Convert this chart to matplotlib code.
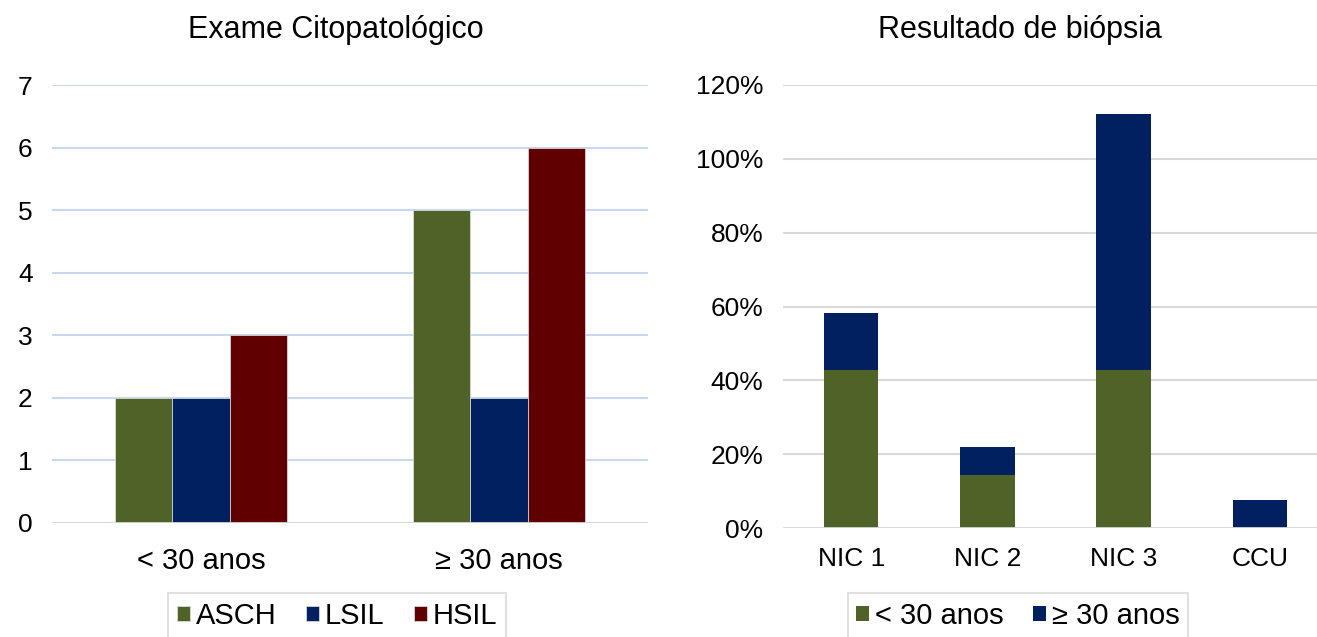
import matplotlib
matplotlib.use("Agg")
import matplotlib.pyplot as plt
import numpy as np
from matplotlib.ticker import PercentFormatter

plt.rcParams["font.family"] = ["Liberation Sans", "DejaVu Sans"]

# left chart: exame citopatologico (counts)
age_groups = ["< 30 anos", "≥ 30 anos"]
cito_series = ["ASCH", "LSIL", "HSIL"]
asch = [2, 5]
lsil = [2, 2]
hsil = [3, 6]

# right chart: resultado de biopsia (share, stacked)
biopsy_cats = ["NIC 1", "NIC 2", "NIC 3", "CCU"]
under_30 = [0.4286, 0.1429, 0.4286, 0.0]
over_30 = [0.1538, 0.0769, 0.6923, 0.0769]
biopsy_series = ["< 30 anos", "≥ 30 anos"]

GREEN = "#4F6228"
NAVY = "#002060"
RED = "#600000"

W, H = 1317, 637
fig = plt.figure(figsize=(W / 100, H / 100), dpi=100)


def px_axes(x0, x1, y_top, y_bot):
    return fig.add_axes([x0 / W, 1 - y_bot / H, (x1 - x0) / W, (y_bot - y_top) / H])


def style(ax, grid_color, xpad):
    for s in ax.spines.values():
        s.set_visible(False)
    ax.grid(axis="y", color=grid_color, linewidth=1.5)
    ax.set_axisbelow(True)
    ax.tick_params(axis="both", length=0, labelsize=19)
    ax.tick_params(axis="y", pad=14)
    ax.tick_params(axis="x", pad=xpad)


# ---- left
ax1 = px_axes(52, 648, 85, 523)
x = np.arange(len(age_groups))
bw = 0.192
for off, vals, col, name in zip([-1, 0, 1], [asch, lsil, hsil], [GREEN, NAVY, RED], cito_series):
    ax1.bar(x + off * bw, vals, bw, color=col, label=name, edgecolor="#E6E6E6", linewidth=0.5)
ax1.set_xlim(-0.5, 1.5)
ax1.set_ylim(0, 7)
ax1.set_yticks(range(0, 8))
ax1.set_xticks(x)
ax1.set_xticklabels(age_groups)
style(ax1, "#C9D8EE", 17)
ax1.tick_params(axis="x", labelsize=21)
ax1.axhline(0, color="#D9D9D9", linewidth=2)
fig.text(336 / W, 1 - 30 / H, "Exame Citopatológico", ha="center", va="center", fontsize=22)

# ---- right
ax2 = px_axes(783, 1317, 85, 528)
xb = np.arange(len(biopsy_cats))
bw2 = 0.4
ax2.bar(xb, under_30, bw2, color=GREEN, label=biopsy_series[0], edgecolor="none")
ax2.bar(xb, over_30, bw2, bottom=under_30, color=NAVY, label=biopsy_series[1], edgecolor="none")
ax2.set_xlim(-0.5, -0.5 + 534 / 136.3)
ax2.set_ylim(0, 1.2)
ax2.set_yticks(np.arange(0, 1.21, 0.2))
ax2.yaxis.set_major_formatter(PercentFormatter(1.0, decimals=0))
ax2.set_xticks(xb)
ax2.set_xticklabels(biopsy_cats)
style(ax2, "#D9D9D9", 14)
ax2.axhline(0, color="#D9D9D9", linewidth=2)
fig.text(1020 / W, 1 - 30 / H, "Resultado de biópsia", ha="center", va="center", fontsize=22)

leg_kw = dict(loc="upper center", ncol=3, fontsize=21, frameon=True, fancybox=False,
              handlelength=0.45, handleheight=0.45, handletextpad=0.2, columnspacing=1.0,
              borderpad=0.3, borderaxespad=0, edgecolor="#D9D9D9")
l1 = fig.legend(*ax1.get_legend_handles_labels(), bbox_to_anchor=(337 / W, 1 - 593 / H), **leg_kw)
l2 = fig.legend(*ax2.get_legend_handles_labels(), bbox_to_anchor=(1018 / W, 1 - 593 / H), **leg_kw)
for lg in (l1, l2):
    lg.get_frame().set_linewidth(1.5)

fig.savefig("out.png", dpi=100)
